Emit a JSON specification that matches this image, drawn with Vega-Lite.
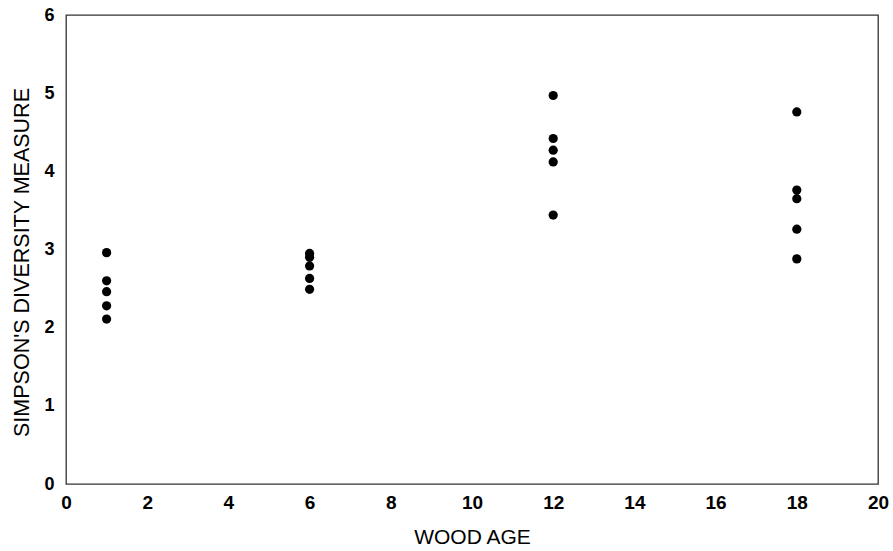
{
  "$schema": "https://vega.github.io/schema/vega-lite/v6.json",
  "width": 812,
  "height": 469,
  "autosize": {"type": "none"},
  "padding": {"left": 66, "top": 15, "right": 15, "bottom": 67},
  "background": "white",
  "config": {
    "view": {"stroke": "#333333", "strokeWidth": 1.3},
    "font": "Liberation Sans"
  },
  "data": {
    "values": [
      {"age": 1, "d": 2.96}, {"age": 1, "d": 2.60}, {"age": 1, "d": 2.46}, {"age": 1, "d": 2.28}, {"age": 1, "d": 2.11},
      {"age": 6, "d": 2.95}, {"age": 6, "d": 2.90}, {"age": 6, "d": 2.79}, {"age": 6, "d": 2.63}, {"age": 6, "d": 2.49},
      {"age": 12, "d": 4.97}, {"age": 12, "d": 4.42}, {"age": 12, "d": 4.27}, {"age": 12, "d": 4.12}, {"age": 12, "d": 3.44},
      {"age": 18, "d": 4.76}, {"age": 18, "d": 3.76}, {"age": 18, "d": 3.65}, {"age": 18, "d": 3.26}, {"age": 18, "d": 2.88}
    ]
  },
  "mark": {"type": "point", "filled": true, "color": "black", "size": 85, "opacity": 1},
  "encoding": {
    "x": {
      "field": "age", "type": "quantitative",
      "scale": {"domain": [0, 20], "nice": false},
      "axis": {
        "title": "WOOD AGE", "values": [0, 2, 4, 6, 8, 10, 12, 14, 16, 18, 20],
        "domain": false, "ticks": false, "grid": false,
        "labelFontSize": 19, "labelFontWeight": "bold", "labelColor": "black", "labelPadding": 9,
        "labelFlush": false,
        "titleFontSize": 21, "titleFontWeight": "normal", "titleColor": "black", "titlePadding": 14
      }
    },
    "y": {
      "field": "d", "type": "quantitative",
      "scale": {"domain": [0, 6], "nice": false},
      "axis": {
        "title": "SIMPSON'S DIVERSITY MEASURE", "values": [0, 1, 2, 3, 4, 5, 6],
        "domain": false, "ticks": false, "grid": false,
        "labelFontSize": 18, "labelFontWeight": "bold", "labelColor": "black", "labelPadding": 12,
        "labelFlush": false,
        "titleFontSize": 21.5, "titleFontWeight": "normal", "titleColor": "black", "titlePadding": 10,
        "titleY": 247
      }
    }
  }
}
